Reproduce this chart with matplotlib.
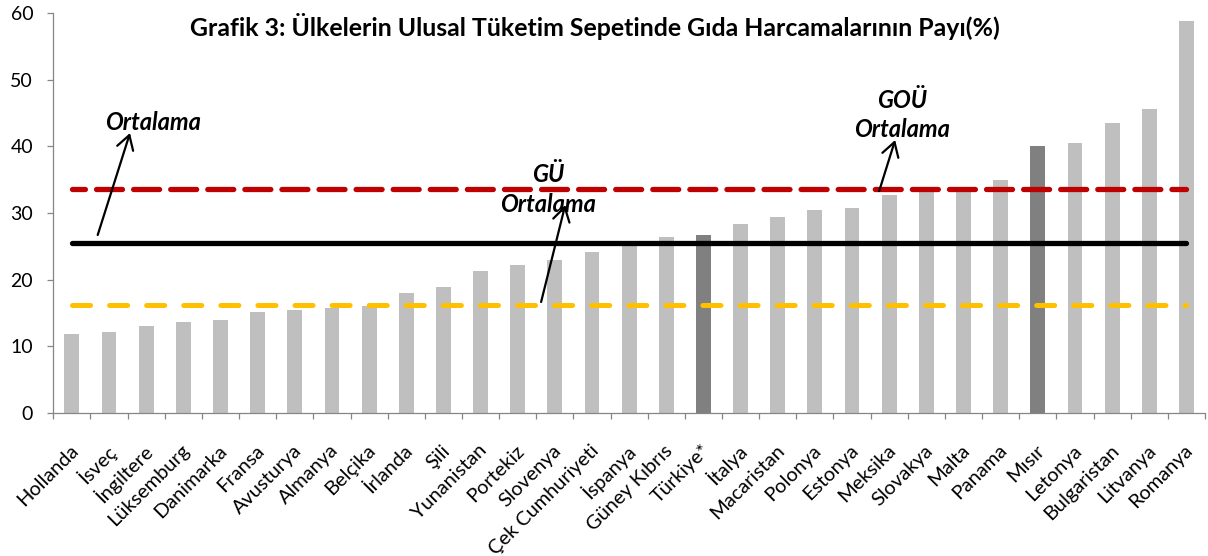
import matplotlib
matplotlib.use("Agg")
import matplotlib.pyplot as plt
import numpy as np

plt.rcParams["font.family"] = ["Lato", "DejaVu Sans"]
plt.rcParams["lines.scale_dashes"] = False

# data
countries = ["Hollanda", "İsveç", "İngiltere", "Lüksemburg", "Danimarka", "Fransa",
             "Avusturya", "Almanya", "Belçika", "İrlanda", "Şili", "Yunanistan",
             "Portekiz", "Slovenya", "Çek Cumhuriyeti", "İspanya", "Güney Kıbrıs",
             "Türkiye*", "İtalya", "Macaristan", "Polonya", "Estonya", "Meksika",
             "Slovakya", "Malta", "Panama", "Mısır", "Letonya", "Bulgaristan",
             "Litvanya", "Romanya"]
food_share = [11.9, 12.1, 13.0, 13.6, 14.0, 15.1, 15.5, 15.7, 16.1, 18.0, 18.9, 21.3,
              22.2, 23.0, 24.2, 25.4, 26.4, 26.7, 28.4, 29.4, 30.5, 30.8, 32.7,
              33.6, 33.9, 34.9, 40.1, 40.5, 43.5, 45.6, 58.8]
highlight = ["Türkiye*", "Mısır"]
avg_all = 25.45   # Ortalama
avg_gou = 33.65   # GOÜ Ortalama
avg_gu = 16.25    # GÜ Ortalama

x = np.arange(len(countries))
bar_colors = ["#808080" if c in highlight else "#BFBFBF" for c in countries]

fig = plt.figure(figsize=(12.08, 5.56), dpi=100)
ax = fig.add_axes([53.3 / 1208, 143 / 556, (1205 - 53.3) / 1208, 400 / 556])

ax.bar(x, food_share, width=0.4, color=bar_colors, zorder=2)

# average lines (dash lengths in pt)
ax.plot(x, [avg_gou] * len(x), color="#C00000", lw=3.8, dash_capstyle="round",
        linestyle=(9.4, (18.7, 8.0)), zorder=3)
ax.plot(x, [avg_all] * len(x), color="black", lw=3.8, solid_capstyle="round", zorder=3)
ax.plot(x, [avg_gu] * len(x), color="#FFC000", lw=3.6, dash_capstyle="round",
        linestyle=(0, (13.0, 13.7)), zorder=3)

ax.set_xlim(-0.5, len(x) - 0.5)
ax.set_ylim(0, 60)
ax.set_yticks(np.arange(0, 61, 10))
ax.tick_params(axis="y", direction="out", length=4.5, width=0.9, color="#868686",
               labelsize=14, pad=10)

# x ticks between categories, labels at centres
ax.set_xticks(np.arange(-0.5, len(x), 1.0))
ax.set_xticklabels([])
ax.tick_params(axis="x", which="major", direction="out", length=4.5, width=0.9, color="#868686")
ax.set_xticks(x + 0.1, minor=True)
ax.set_xticklabels(countries, minor=True, rotation=45, ha="right", va="center",
                   rotation_mode="anchor", fontsize=14.4)
ax.tick_params(axis="x", which="minor", length=0, pad=25)

for s in ["top", "right"]:
    ax.spines[s].set_visible(False)
for s in ["left", "bottom"]:
    ax.spines[s].set_color("#868686")
    ax.spines[s].set_linewidth(0.9)

fig.text(0.4925, 0.952, "Grafik 3: Ülkelerin Ulusal Tüketim Sepetinde Gıda Harcamalarının Payı(%)",
         ha="center", va="center", fontsize=17.9, fontweight="bold")

# annotations
lab = dict(fontsize=17, fontweight="bold", fontstyle="italic", ha="center", va="center", zorder=5)
arr = dict(arrowstyle="->,head_length=1.0,head_width=0.6", lw=1.6, color="black",
           shrinkA=0, shrinkB=0, mutation_scale=10)
ax.text(2.18, 43.65, "Ortalama", **lab)
ax.annotate("", xy=(1.565, 42.0), xytext=(0.695, 26.7), arrowprops=arr,
            annotation_clip=False, zorder=5)
ax.text(12.82, 35.85, "GÜ", **lab)
ax.text(12.82, 31.35, "Ortalama", **lab)
ax.annotate("", xy=(13.28, 31.2), xytext=(12.63, 16.65), arrowprops=arr, zorder=5)
ax.text(22.35, 46.8, "GOÜ", **lab)
ax.text(22.35, 42.45, "Ortalama", **lab)
ax.annotate("", xy=(22.16, 40.95), xytext=(21.73, 33.3), arrowprops=arr, zorder=5)

fig.savefig("out.png", dpi=100)
